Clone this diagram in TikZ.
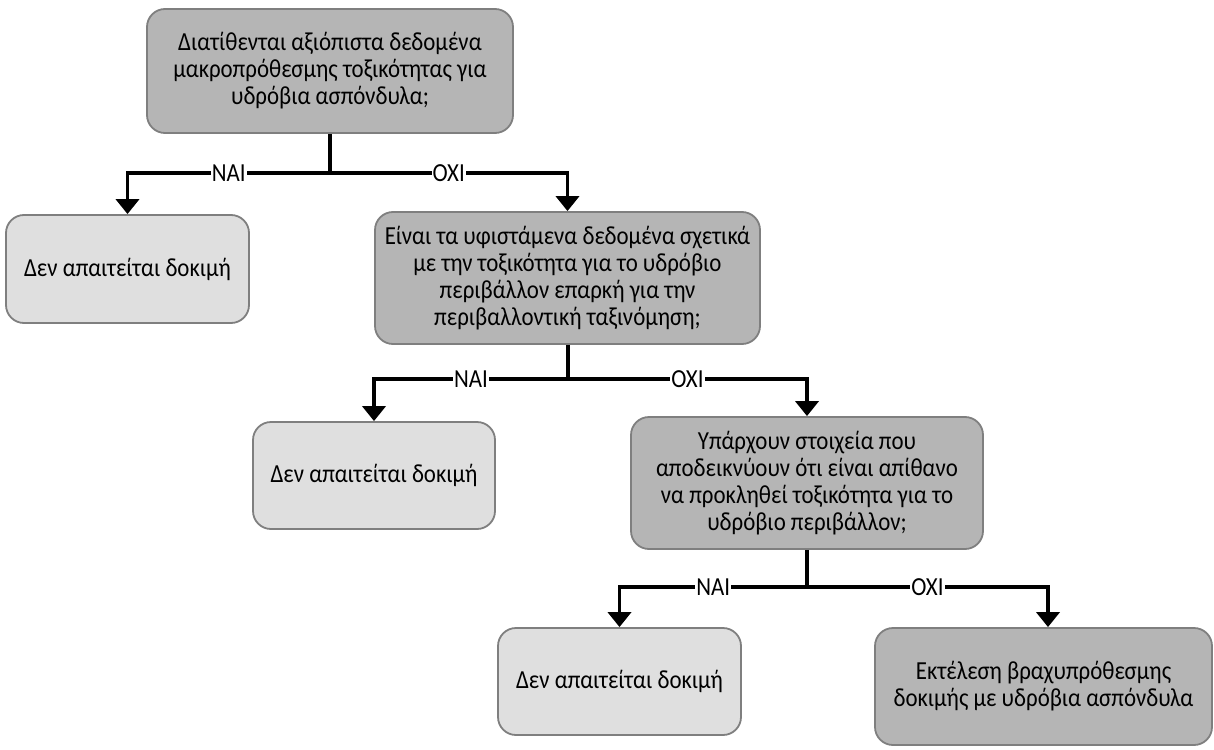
\documentclass[tikz,border=0pt]{standalone}
\usepackage{fontspec}
\setmainfont{Carlito}[FakeStretch=0.88]
\usetikzlibrary{arrows.meta}
\definecolor{darkbox}{HTML}{B5B5B5}
\definecolor{lightbox}{HTML}{DFDFDF}
\definecolor{boxline}{HTML}{7F7F7F}
\begin{document}
\begin{tikzpicture}[x=1pt,y=-1pt,
  box/.style={draw=boxline,line width=1.8pt,rounded corners=18pt,align=center,
    font=\fontsize{26}{27}\selectfont,inner sep=0pt},
  qbox/.style={box,fill=darkbox},
  abox/.style={box,fill=lightbox},
  conn/.style={line width=3.8pt,black},
  arr/.style={conn,-{Triangle[width=23pt,length=15pt]}},
  lab/.style={fill=white,inner sep=1pt,font=\fontsize{26}{27}\selectfont}]
\useasboundingbox (0,0) rectangle (1214,749);
\node[qbox,minimum width=366pt,minimum height=124pt] (b1) at (330,71)
  {Διατίθενται αξιόπιστα δεδομένα\\μακροπρόθεσμης τοξικότητας για\\υδρόβια ασπόνδυλα;};
\node[abox,minimum width=243pt,minimum height=108pt] (b2) at (127.5,269)
  {Δεν απαιτείται δοκιμή};
\node[qbox,minimum width=385pt,minimum height=132pt] (b3) at (567.5,278)
  {Είναι τα υφιστάμενα δεδομένα σχετικά\\με την τοξικότητα για το υδρόβιο\\περιβάλλον επαρκή για την\\περιβαλλοντική ταξινόμηση;};
\node[abox,minimum width=242pt,minimum height=107pt] (b4) at (374,475.5)
  {Δεν απαιτείται δοκιμή};
\node[qbox,minimum width=352pt,minimum height=132pt] (b5) at (807,483)
  {Υπάρχουν στοιχεία που\\αποδεικνύουν ότι είναι απίθανο\\να προκληθεί τοξικότητα για το\\υδρόβιο περιβάλλον;};
\node[abox,minimum width=243pt,minimum height=107pt] (b6) at (619.5,681.5)
  {Δεν απαιτείται δοκιμή};
\node[qbox,minimum width=337pt,minimum height=117pt] (b7) at (1043.5,686.5)
  {Εκτέλεση βραχυπρόθεσμης\\δοκιμής με υδρόβια ασπόνδυλα};
% level 1
\coordinate (j1) at (330,173);
\draw[conn] (b1.south) -- (j1);
\draw[arr] (j1) -| node[lab,pos=0.25]{NAI} (b2.north);
\draw[arr] (j1) -| node[lab,pos=0.25]{OXI} (b3.north);
% level 2
\coordinate (j2) at (568,379);
\draw[conn] (b3.south -| j2) -- (j2);
\draw[arr] (j2) -| node[lab,pos=0.25]{NAI} (b4.north);
\draw[arr] (j2) -| node[lab,pos=0.25]{OXI} (b5.north);
% level 3
\coordinate (j3) at (807,587);
\draw[conn] (b5.south) -- (j3);
\draw[arr] (j3) -| node[lab,pos=0.25]{NAI} (b6.north);
\draw[arr] (j3) -| node[lab,pos=0.25]{OXI} ([xshift=4.5pt]b7.north);
\end{tikzpicture}
\end{document}
